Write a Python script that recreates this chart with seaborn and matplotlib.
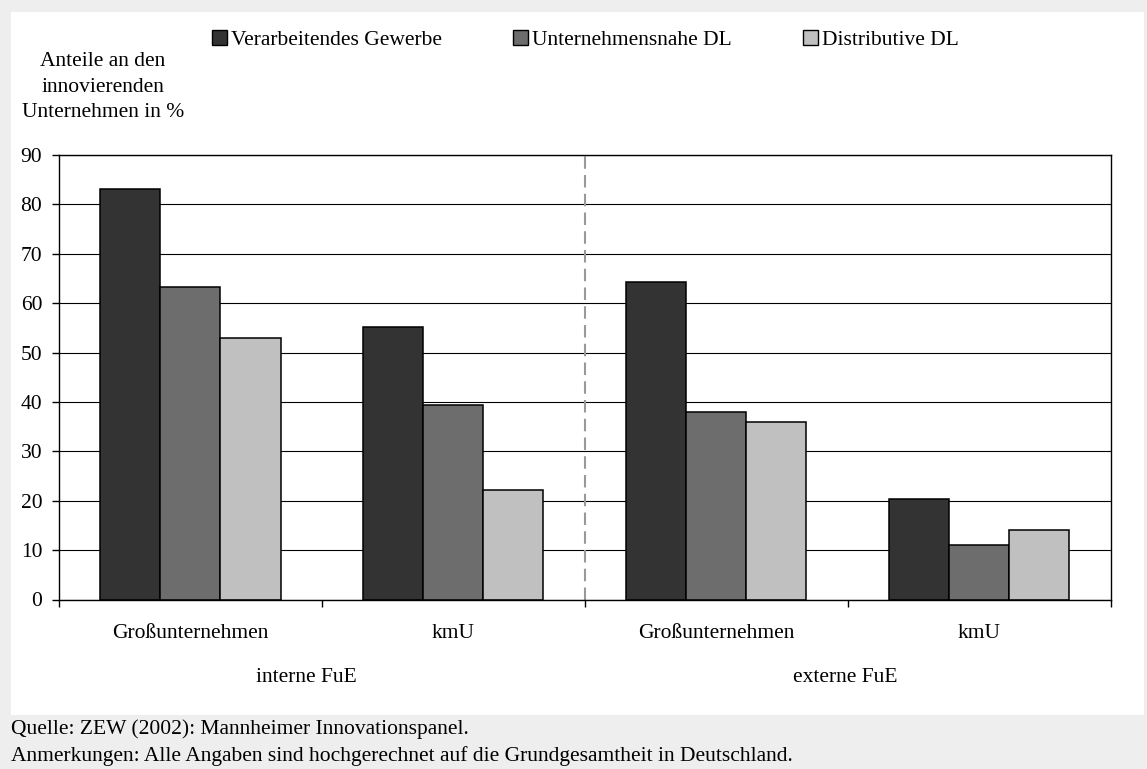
import matplotlib
matplotlib.use("Agg")
import matplotlib.pyplot as plt
import matplotlib.transforms as mtransforms
from matplotlib.patches import Patch, Rectangle
import seaborn as sns
import pandas as pd

# Daten
kategorien = ["intern_gross", "intern_kmu", "extern_gross", "extern_kmu"]
kat_labels = ["Großunternehmen", "kmU", "Großunternehmen", "kmU"]
gruppen = ["interne FuE", "externe FuE"]
sektoren = ["Verarbeitendes Gewerbe", "Unternehmensnahe DL", "Distributive DL"]
verarbeitend = [83.2, 55.1, 64.2, 20.3]
unternehmensnah = [63.3, 39.4, 37.9, 11.1]
distributiv = [53.0, 22.2, 36.0, 14.1]
farben = ["#333333", "#6d6d6d", "#c0c0c0"]

df = pd.DataFrame({
    "kategorie": kategorien * 3,
    "sektor": [sektoren[0]] * 4 + [sektoren[1]] * 4 + [sektoren[2]] * 4,
    "wert": verarbeitend + unternehmensnah + distributiv,
})

plt.rcParams["font.family"] = ["Liberation Serif", "DejaVu Serif"]
plt.rcParams["font.size"] = 15.5

W, H = 1147, 769
fig = plt.figure(figsize=(W / 100, H / 100), dpi=100)
fig.patch.set_facecolor("#eeeeee")
fig.patches.append(Rectangle((11 / W, 1 - 715 / H), (1144 - 11) / W, (715 - 12) / H,
                             transform=fig.transFigure, facecolor="white",
                             edgecolor="none", zorder=-5))

ax = fig.add_axes([59 / W, 1 - 599.5 / H, (1110.5 - 59) / W, (599.5 - 155) / H])
ax.set_zorder(1)
ax.set_facecolor("white")

sns.barplot(data=df, x="kategorie", y="wert", hue="sektor", order=kategorien,
            hue_order=sektoren, palette=dict(zip(sektoren, farben)),
            width=0.686, edgecolor="black", linewidth=1.1, saturation=1,
            legend=False, ax=ax)

ax.set_xlim(-0.5, 3.5)
ax.set_ylim(0, 90)
ax.set_yticks(range(0, 91, 10))
ax.yaxis.grid(True, color="black", linewidth=0.8)
ax.set_axisbelow(True)
ax.set_xticks([-0.5, 0.5, 1.5, 2.5, 3.5])
ax.set_xticklabels([])
ax.tick_params(axis="both", direction="out", length=5, width=1, color="black")
ax.tick_params(axis="y", pad=7)
ax.set_xlabel("")
ax.set_ylabel("")
for s in ax.spines.values():
    s.set_color("black")
    s.set_linewidth(1)

ax.axvline(1.5, color="#999999", linewidth=1.5, dashes=(6, 3), zorder=1)

trans = mtransforms.blended_transform_factory(ax.transData, fig.transFigure)
for i, lab in enumerate(kat_labels):
    ax.text(i, 1 - 633 / H, lab, transform=trans, ha="center", va="center", clip_on=False)
for x, lab in zip([0.44, 2.49], gruppen):
    ax.text(x, 1 - 677 / H, lab, transform=trans, ha="center", va="center", clip_on=False)

fig.text(103 / W, 1 - 87 / H, "Anteile an den\ninnovierenden\nUnternehmen in %",
         ha="center", va="center", linespacing=1.46)

handles = [Patch(facecolor=c, edgecolor="black", linewidth=1) for c in farben]
fig.legend(handles, sektoren, loc="center left", bbox_to_anchor=(212 / W, 1 - 40 / H),
           ncol=3, frameon=False, borderpad=0, borderaxespad=0,
           handlelength=0.69, handleheight=0.69, handletextpad=0.2,
           columnspacing=3.3)

fig.text(11 / W, 1 - 729 / H, "Quelle: ZEW (2002): Mannheimer Innovationspanel.",
         ha="left", va="center", fontsize=15.5)
fig.text(11 / W, 1 - 756 / H,
         "Anmerkungen: Alle Angaben sind hochgerechnet auf die Grundgesamtheit in Deutschland.",
         ha="left", va="center", fontsize=15.5)

fig.savefig("out.png", dpi=100, facecolor=fig.get_facecolor())
